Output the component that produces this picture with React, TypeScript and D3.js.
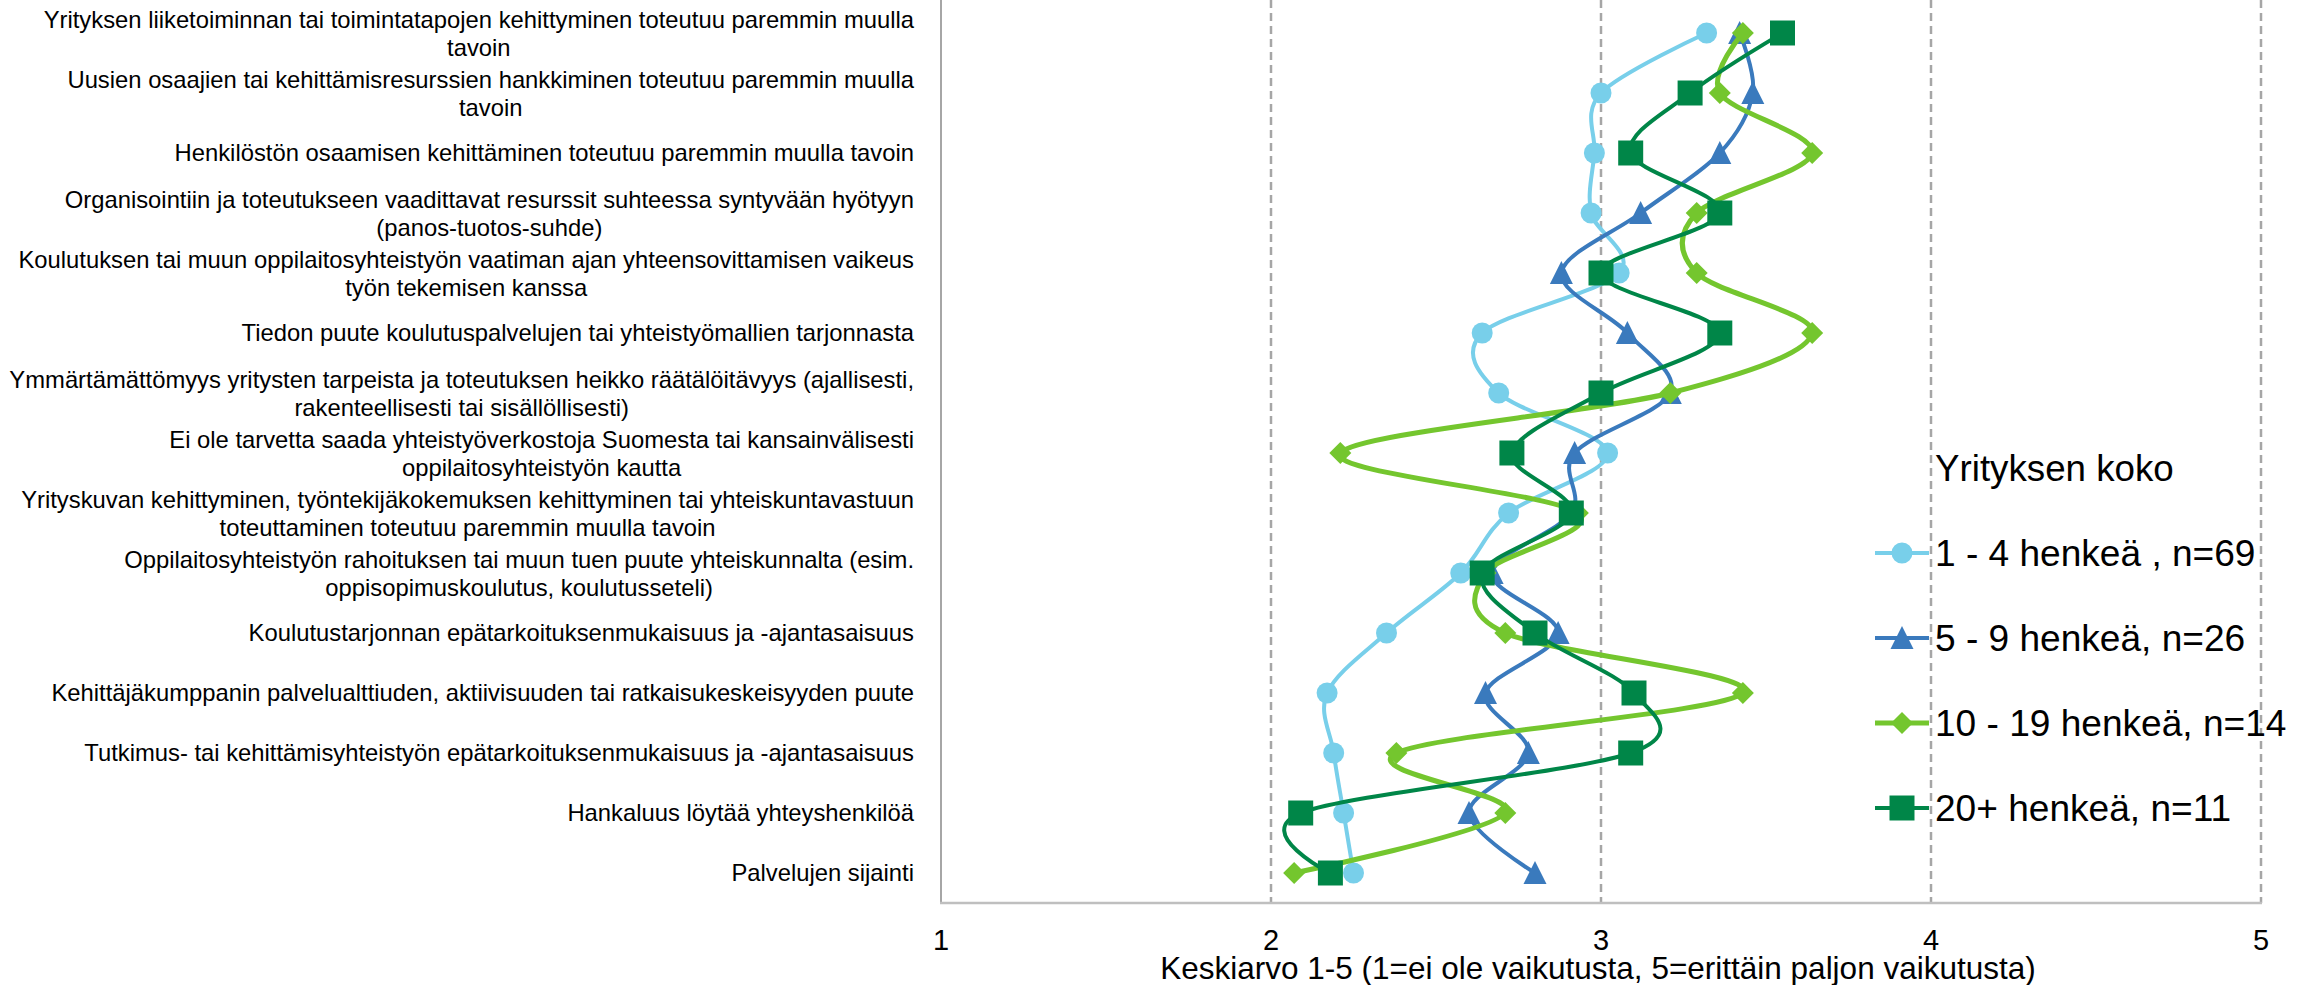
import React, { useEffect, useRef } from "react";
import * as d3 from "d3";

const categories: string[] = [
  "Yrityksen liiketoiminnan tai toimintatapojen kehittyminen toteutuu paremmin muulla\ntavoin",
  "Uusien osaajien tai kehittämisresurssien hankkiminen toteutuu paremmin muulla\ntavoin",
  "Henkilöstön osaamisen kehittäminen toteutuu paremmin muulla tavoin",
  "Organisointiin ja toteutukseen vaadittavat resurssit suhteessa syntyvään hyötyyn\n(panos-tuotos-suhde)",
  "Koulutuksen tai muun oppilaitosyhteistyön vaatiman ajan yhteensovittamisen vaikeus\ntyön tekemisen kanssa",
  "Tiedon puute koulutuspalvelujen tai yhteistyömallien tarjonnasta",
  "Ymmärtämättömyys yritysten tarpeista ja toteutuksen heikko räätälöitävyys (ajallisesti,\nrakenteellisesti tai sisällöllisesti)",
  "Ei ole tarvetta saada yhteistyöverkostoja Suomesta tai kansainvälisesti\noppilaitosyhteistyön kautta",
  "Yrityskuvan kehittyminen, työntekijäkokemuksen kehittyminen tai yhteiskuntavastuun\ntoteuttaminen toteutuu paremmin muulla tavoin",
  "Oppilaitosyhteistyön rahoituksen tai muun tuen puute yhteiskunnalta (esim.\noppisopimuskoulutus, koulutusseteli)",
  "Koulutustarjonnan epätarkoituksenmukaisuus ja -ajantasaisuus",
  "Kehittäjäkumppanin palvelualttiuden, aktiivisuuden tai ratkaisukeskeisyyden puute",
  "Tutkimus- tai kehittämisyhteistyön epätarkoituksenmukaisuus ja -ajantasaisuus",
  "Hankaluus löytää yhteyshenkilöä",
  "Palvelujen sijainti",
];

const size1to4: number[] = [3.32, 3.0, 2.98, 2.97, 3.055, 2.64, 2.69, 3.02, 2.72, 2.575, 2.35, 2.17, 2.19, 2.22, 2.25];
const size5to9: number[] = [3.42, 3.46, 3.36, 3.12, 2.88, 3.08, 3.21, 2.92, 2.91, 2.67, 2.87, 2.65, 2.78, 2.6, 2.8];
const size10to19: number[] = [3.43, 3.36, 3.64, 3.29, 3.29, 3.64, 3.21, 2.21, 2.93, 2.65, 2.71, 3.43, 2.38, 2.71, 2.07];
const size20plus: number[] = [3.55, 3.27, 3.09, 3.36, 3.0, 3.36, 3.0, 2.73, 2.91, 2.64, 2.8, 3.1, 3.09, 2.09, 2.18];

const seriesNames: string[] = ["1 - 4 henkeä , n=69", "5 - 9 henkeä, n=26", "10 - 19 henkeä, n=14", "20+ henkeä, n=11"];
const xTicks: number[] = [1, 2, 3, 4, 5];
const legendTitle = "Yrityksen koko";
const xAxisTitle = "Keskiarvo 1-5 (1=ei ole vaikutusta, 5=erittäin paljon vaikutusta)";

const seriesValues = [size1to4, size5to9, size10to19, size20plus];
const seriesStyle = [
  { color: "#78CFEA", width: 4, shape: "circle" },
  { color: "#3A7ABD", width: 4, shape: "triangle" },
  { color: "#74C62E", width: 5, shape: "diamond" },
  { color: "#008648", width: 4, shape: "square" },
];

const W = 2315;
const H = 985;
const FONT = "'Liberation Sans', Arial, sans-serif";

function markerPath(shape: string, cx: number, cy: number): string {
  const p = d3.path();
  if (shape === "circle") {
    p.moveTo(cx + 10.5, cy);
    p.arc(cx, cy, 10.5, 0, Math.PI * 2);
  } else if (shape === "triangle") {
    p.moveTo(cx, cy - 12);
    p.lineTo(cx + 11.5, cy + 11);
    p.lineTo(cx - 11.5, cy + 11);
    p.closePath();
  } else if (shape === "diamond") {
    p.moveTo(cx, cy - 11);
    p.lineTo(cx + 11, cy);
    p.lineTo(cx, cy + 11);
    p.lineTo(cx - 11, cy);
    p.closePath();
  } else {
    p.rect(cx - 12.5, cy - 12.5, 25, 25);
  }
  return p.toString();
}

export default function App() {
  const ref = useRef<SVGSVGElement | null>(null);

  useEffect(() => {
    const svg = d3.select(ref.current);
    svg.selectAll("*").remove();

    const plotLeft = 941;
    const plotRight = 2261;
    const plotTop = 3;
    const plotBottom = 903;

    const x = d3.scaleLinear().domain([1, 5]).range([plotLeft, plotRight]);
    const y = d3.scaleBand<string>().domain(categories).range([plotTop, plotBottom]).padding(0);
    const yc = (i: number) => (y(categories[i]) as number) + y.bandwidth() / 2;

    // gridlines
    svg
      .append("g")
      .selectAll("line")
      .data(xTicks.filter((t) => t > 1))
      .join("line")
      .attr("x1", (d) => x(d))
      .attr("x2", (d) => x(d))
      .attr("y1", 0)
      .attr("y2", plotBottom)
      .attr("stroke", "#A6A6A6")
      .attr("stroke-width", 2.5)
      .attr("stroke-dasharray", "8,5");

    // axes lines
    svg
      .append("line")
      .attr("x1", plotLeft)
      .attr("x2", plotLeft)
      .attr("y1", 0)
      .attr("y2", plotBottom)
      .attr("stroke", "#A6A6A6")
      .attr("stroke-width", 2);
    svg
      .append("line")
      .attr("x1", plotLeft - 1)
      .attr("x2", plotRight + 1)
      .attr("y1", plotBottom)
      .attr("y2", plotBottom)
      .attr("stroke", "#BFBFBF")
      .attr("stroke-width", 2.5);

    // x tick labels
    svg
      .append("g")
      .selectAll("text")
      .data(xTicks)
      .join("text")
      .attr("x", (d) => x(d))
      .attr("y", 950)
      .attr("text-anchor", "middle")
      .attr("font-family", FONT)
      .attr("font-size", 29)
      .attr("fill", "#000")
      .text((d) => String(d));

    svg
      .append("text")
      .attr("x", (plotLeft + plotRight) / 2 - 3)
      .attr("y", 979)
      .attr("text-anchor", "middle")
      .attr("font-family", FONT)
      .attr("font-size", 31.5)
      .attr("fill", "#000")
      .text(xAxisTitle);

    // category labels
    const labelRight = 914;
    const lineGap = 28;
    const gLab = svg.append("g").attr("font-family", FONT).attr("font-size", 23.8).attr("fill", "#000");
    categories.forEach((cat, i) => {
      const lines = cat.split("\n");
      const temp = lines.map((ln) => gLab.append("text").text(ln));
      const widths = temp.map((t) => (t.node() as SVGTextElement).getComputedTextLength());
      const maxW = Math.max(...widths);
      const center = labelRight - maxW / 2;
      const cy = yc(i) + (lines.length > 1 ? 1 : 0);
      temp.forEach((t, k) => {
        const ly = cy + (k - (lines.length - 1) / 2) * lineGap;
        t.attr("x", center).attr("y", ly).attr("dy", "0.35em").attr("text-anchor", "middle");
      });
    });

    // series
    const line = d3
      .line<number>()
      .x((d) => x(d))
      .y((_, i) => yc(i))
      .curve(d3.curveCardinal.tension(0));

    seriesValues.forEach((vals, s) => {
      const st = seriesStyle[s];
      const g = svg.append("g");
      g.append("path")
        .attr("d", line(vals) as string)
        .attr("fill", "none")
        .attr("stroke", st.color)
        .attr("stroke-width", st.width)
        .attr("stroke-linejoin", "round")
        .attr("stroke-linecap", "round");
      g.selectAll("path.m")
        .data(vals)
        .join("path")
        .attr("class", "m")
        .attr("d", (d, i) => markerPath(st.shape, x(d), yc(i)))
        .attr("fill", st.color);
    });

    // legend
    const lg = svg.append("g").attr("font-family", FONT);
    lg.append("text")
      .attr("transform", "translate(1935,468) scale(1.02,1)")
      .attr("dy", "0.35em")
      .attr("font-size", 36)
      .attr("fill", "#000")
      .text(legendTitle);
    seriesNames.forEach((name, s) => {
      const st = seriesStyle[s];
      const ly = 553 + s * 85;
      lg.append("line")
        .attr("x1", 1875)
        .attr("x2", 1929)
        .attr("y1", ly)
        .attr("y2", ly)
        .attr("stroke", st.color)
        .attr("stroke-width", st.width);
      lg.append("path").attr("d", markerPath(st.shape, 1902, ly)).attr("fill", st.color);
      lg.append("text")
        .attr("transform", `translate(1935,${ly}) scale(1.03,1)`)
        .attr("dy", "0.35em")
        .attr("font-size", 36)
        .attr("fill", "#000")
        .text(name);
    });
  }, []);

  return (
    <div style={{ position: "absolute", left: 0, top: 0, width: W, height: H, background: "#fff" }}>
      <svg ref={ref} width={W} height={H} style={{ display: "block" }} />
    </div>
  );
}
